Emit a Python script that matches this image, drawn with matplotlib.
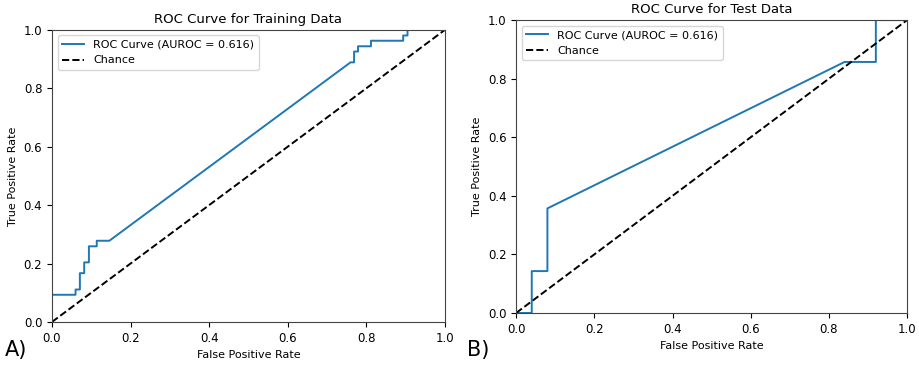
import matplotlib
matplotlib.use("Agg")
import matplotlib.pyplot as plt

# ---- data ----
train_fpr = [0.0, 0.0, 0.06, 0.06, 0.071, 0.071, 0.082, 0.082, 0.094, 0.094,
             0.114, 0.114, 0.146, 0.76, 0.769, 0.769, 0.779, 0.779, 0.812,
             0.812, 0.894, 0.894, 0.905, 0.905, 1.0]
train_tpr = [0.0, 0.093, 0.093, 0.111, 0.111, 0.167, 0.167, 0.204, 0.204,
             0.259, 0.259, 0.278, 0.278, 0.889, 0.889, 0.926, 0.926, 0.944,
             0.944, 0.963, 0.963, 0.981, 0.981, 1.0, 1.0]

test_fpr = [0.0, 0.04, 0.04, 0.08, 0.08, 0.84, 0.92, 0.92, 1.0]
test_tpr = [0.0, 0.0, 0.143, 0.143, 0.357, 0.857, 0.857, 1.0, 1.0]

auroc_train = 0.616
auroc_test = 0.616

plt.rcParams.update({"font.size": 8})

fig = plt.figure(figsize=(9.2, 3.65), dpi=100)

ax1 = fig.add_axes([0.0565, 0.118, 0.427, 0.8])
ax2 = fig.add_axes([0.561, 0.1425, 0.425, 0.8025])


def draw_roc(ax, fpr, tpr, auroc, title):
    ax.plot(fpr, tpr, color="#1f77b4", lw=1.4, label=f"ROC Curve (AUROC = {auroc:.3f})")
    ax.plot([0, 1], [0, 1], "k--", lw=1.4, label="Chance")
    ax.set_xlim(0, 1)
    ax.set_ylim(0, 1)
    ax.set_xlabel("False Positive Rate", fontsize=8)
    ax.set_ylabel("True Positive Rate", fontsize=8)
    ax.set_title(title, fontsize=9.5, pad=5)
    ax.tick_params(labelsize=8.5)
    ax.legend(loc="upper left", fontsize=8)
    for sp in ax.spines.values():
        sp.set_color("#444444")


draw_roc(ax1, train_fpr, train_tpr, auroc_train, "ROC Curve for Training Data")
draw_roc(ax2, test_fpr, test_tpr, auroc_test, "ROC Curve for Test Data")

fig.text(0.005, 0.025, "A)", fontsize=15)
fig.text(0.508, 0.025, "B)", fontsize=15)

fig.savefig("out.png", dpi=100)
